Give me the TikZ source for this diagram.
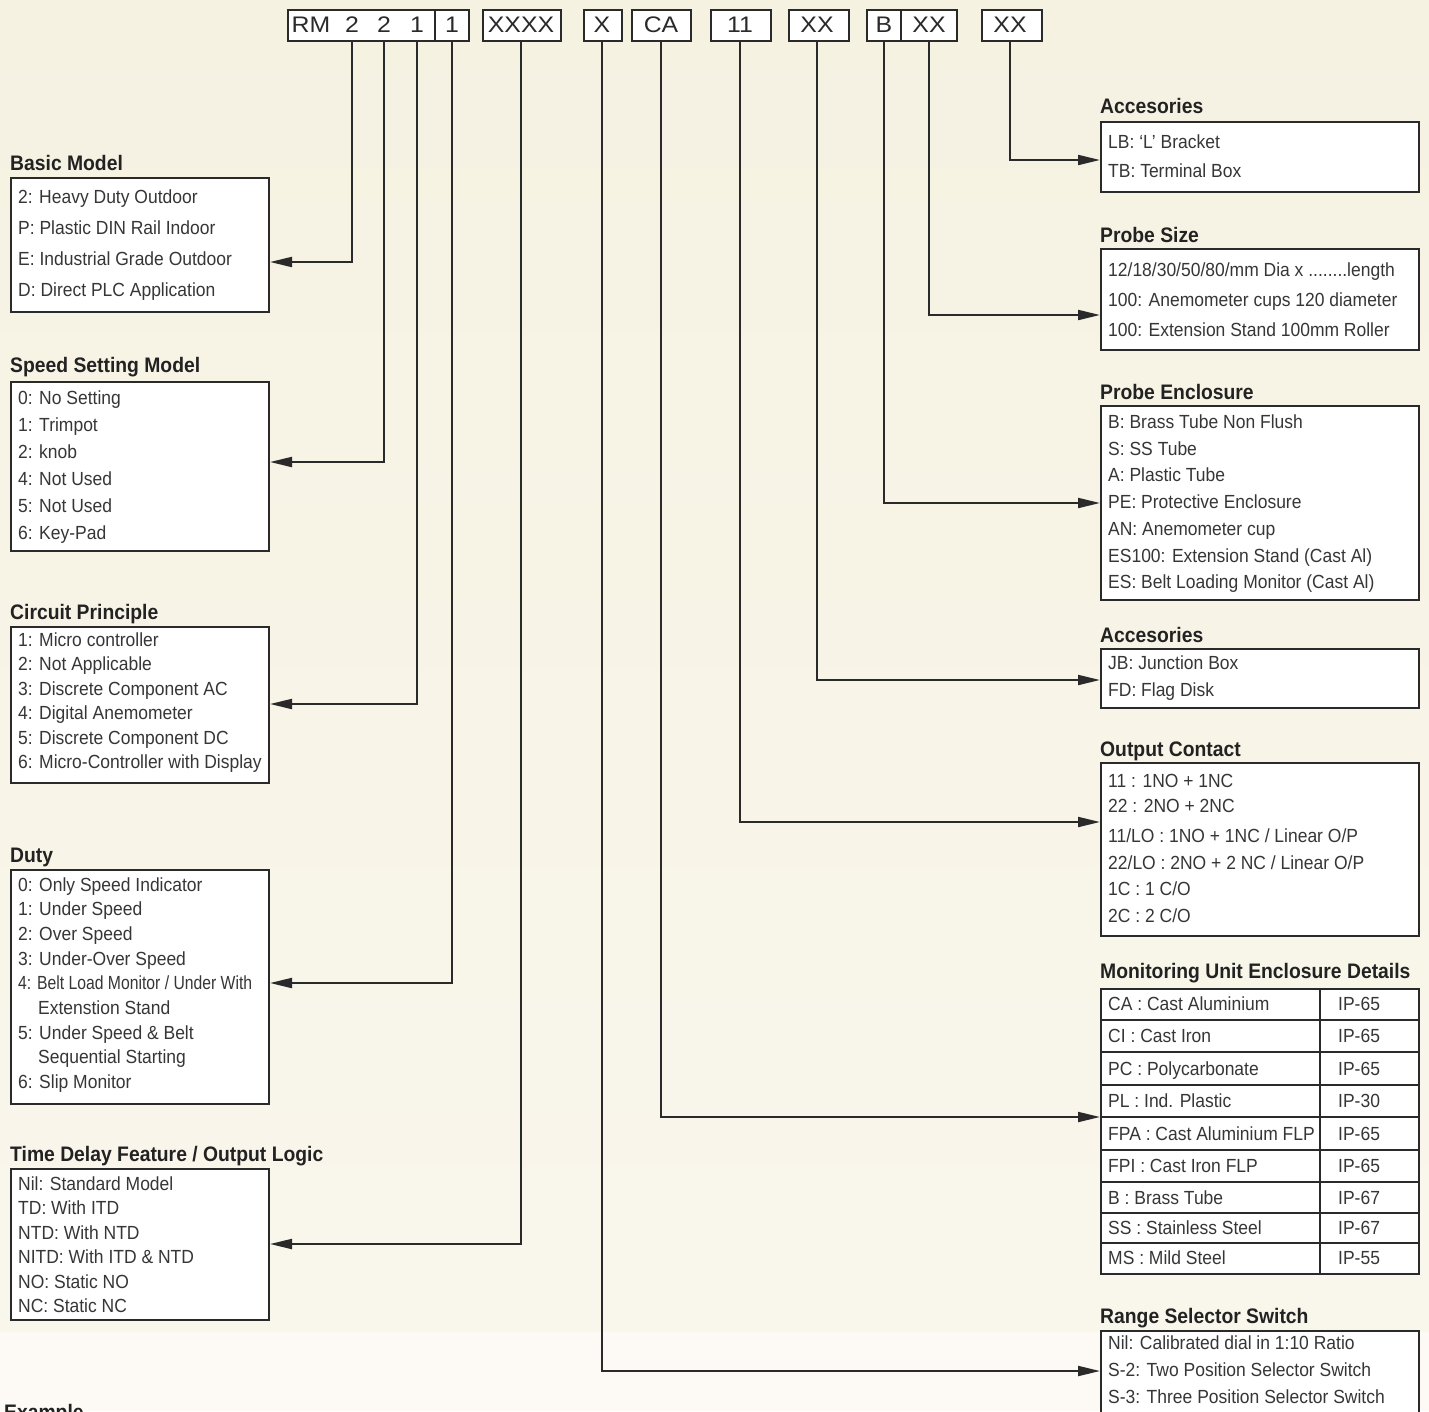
\documentclass[tikz,border=0pt]{standalone}
\usepackage{fontspec}
\usepackage{graphicx}
\setmainfont{Liberation Sans}[FakeStretch=0.92]
\usetikzlibrary{arrows.meta}
\definecolor{bgtop}{HTML}{F6F2E2}
\definecolor{bgmid}{HTML}{F9F6EC}
\definecolor{bgbot}{HTML}{FDFAF5}
\definecolor{ink}{HTML}{2A2A2A}
\definecolor{txt}{HTML}{363636}
\definecolor{hd}{HTML}{222222}
\newcommand{\codetxt}[1]{\scalebox{1.2}[1]{#1}}
\begin{document}
\begin{tikzpicture}[x=1pt,y=-1pt,
  box/.style={draw=ink, line width=2pt, fill=white, inner sep=0pt, anchor=north west},
  item/.style={anchor=base west, inner sep=0pt, text=txt, font=\fontsize{19}{19}\selectfont},
  head/.style={anchor=base west, inner sep=0pt, text=hd, font=\fontsize{21}{21}\selectfont\bfseries},
  code/.style={anchor=base, inner sep=0pt, text=ink, font=\fontsize{22.5}{22.5}\selectfont},
  conn/.style={draw=ink, line width=2pt, -{Triangle[length=22pt,width=10pt]}},
  sep/.style={draw=ink, line width=2pt}]
\useasboundingbox (0,0) rectangle (1429,1411);
\clip (0,0) rectangle (1429,1411);
\shade[top color=bgtop, bottom color=bgmid] (0,0) rectangle (1429,1332);
\fill[bgbot] (0,1332) rectangle (1429,1411);

% ---------- code boxes ----------
\node[box, minimum width=181pt, minimum height=31pt] (cb1) at (287,9) {};
\draw[sep] (435,9) -- (435,40);
\node[box, minimum width=78pt, minimum height=31pt] (cb2) at (482,9) {};
\node[box, minimum width=38pt, minimum height=31pt] (cb3) at (583,9) {};
\node[box, minimum width=59pt, minimum height=31pt] (cb4) at (631,9) {};
\node[box, minimum width=60pt, minimum height=31pt] (cb5) at (710,9) {};
\node[box, minimum width=60pt, minimum height=31pt] (cb6) at (788,9) {};
\node[box, minimum width=90pt, minimum height=31pt] (cb7) at (866,9) {};
\draw[sep] (901,9) -- (901,40);
\node[box, minimum width=60pt, minimum height=31pt] (cb8) at (981,9) {};

\node[code] (rm) at (311,32.5) {\codetxt{RM}};
\node[code] (d1) at (352,32.5) {\codetxt{2}};
\node[code] (d2) at (384,32.5) {\codetxt{2}};
\node[code] (d3) at (417,32.5) {\codetxt{1}};
\node[code] (d4) at (452,32.5) {\codetxt{1}};
\node[code] (d5) at (521,32.5) {\codetxt{XXXX}};
\node[code] (d6) at (602,32.5) {\codetxt{X}};
\node[code] (d7) at (661,32.5) {\codetxt{CA}};
\node[code] (d8) at (740,32.5) {\codetxt{11}};
\node[code] (d9) at (817,32.5) {\codetxt{XX}};
\node[code] (d10) at (884,32.5) {\codetxt{B}};
\node[code] (d11) at (929,32.5) {\codetxt{XX}};
\node[code] (d12) at (1010,32.5) {\codetxt{XX}};

% ---------- left column ----------
\node[head] (hbasic) at (10,170) {Basic Model};
\node[box, minimum width=258pt, minimum height=134pt] (basic) at (10,177) {};
\foreach \t [count=\i from 0] in {2: Heavy Duty Outdoor, P: Plastic DIN Rail Indoor, E: Industrial Grade Outdoor, D: Direct PLC Application}
  \node[item] (basic-\i) at (18,203+31*\i) {\t};

\node[head] (hspeed) at (10,372) {Speed Setting Model};
\node[box, minimum width=258pt, minimum height=169pt] (speed) at (10,381) {};
\foreach \t [count=\i from 0] in {0: No Setting, 1: Trimpot, 2: knob, 4: Not Used, 5: Not Used, 6: Key-Pad}
  \node[item] (speed-\i) at (18,404.5+27*\i) {\t};

\node[head] (hcirc) at (10,619) {Circuit Principle};
\node[box, minimum width=258pt, minimum height=156pt] (circ) at (10,626) {};
\foreach \t [count=\i from 0] in {1: Micro controller, 2: Not Applicable, 3: Discrete Component AC, 4: Digital Anemometer, 5: Discrete Component DC, 6: Micro-Controller with Display}
  \node[item] (circ-\i) at (18,646+24.5*\i) {\t};

\node[head] (hduty) at (10,862) {Duty};
\node[box, minimum width=258pt, minimum height=234pt] (duty) at (10,869) {};
\foreach \t [count=\i from 0] in {0: Only Speed Indicator, 1: Under Speed, 2: Over Speed, 3: Under-Over Speed, \scalebox{0.9}[1]{4: Belt Load Monitor / Under With}, \hspace*{20pt}Extenstion Stand, 5: Under Speed \& Belt, \hspace*{20pt}Sequential Starting, 6: Slip Monitor}
  \node[item] (duty-\i) at (18,891+24.7*\i) {\t};

\node[head] (htime) at (10,1161) {Time Delay Feature / Output Logic};
\node[box, minimum width=258pt, minimum height=151pt] (time) at (10,1168) {};
\foreach \t [count=\i from 0] in {Nil: Standard Model, TD: With ITD, NTD: With NTD, NITD: With ITD \& NTD, NO: Static NO, NC: Static NC}
  \node[item] (time-\i) at (18,1190+24.5*\i) {\t};

\node[head, anchor=north west] (example) at (4,1404) {Example};

% ---------- right column ----------
\node[head] (hacc1) at (1100,113) {Accesories};
\node[box, minimum width=318pt, minimum height=70pt] (acc1) at (1100,121) {};
\node[item] (acc1-0) at (1108,148) {LB: `L' Bracket};
\node[item] (acc1-1) at (1108,177) {TB: Terminal Box};

\node[head] (hsize) at (1100,242) {Probe Size};
\node[box, minimum width=318pt, minimum height=101pt] (size) at (1100,248) {};
\node[item] (size-0) at (1108,276) {12/18/30/50/80/mm Dia x ........length};
\node[item] (size-1) at (1108,306) {100: Anemometer cups 120 diameter};
\node[item] (size-2) at (1108,336) {100: Extension Stand 100mm Roller};

\node[head] (hencl) at (1100,399) {Probe Enclosure};
\node[box, minimum width=318pt, minimum height=194pt] (encl) at (1100,405) {};
\foreach \t [count=\i from 0] in {B: Brass Tube Non Flush, S: SS Tube, A: Plastic Tube, PE: Protective Enclosure, AN: Anemometer cup, ES100: Extension Stand (Cast Al), ES: Belt Loading Monitor (Cast Al)}
  \node[item] (encl-\i) at (1108,428.5+26.7*\i) {\t};

\node[head] (hacc2) at (1100,642) {Accesories};
\node[box, minimum width=318pt, minimum height=59pt] (acc2) at (1100,648) {};
\node[item] (acc2-0) at (1108,669) {JB: Junction Box};
\node[item] (acc2-1) at (1108,696) {FD: Flag Disk};

\node[head] (hout) at (1100,756) {Output Contact};
\node[box, minimum width=318pt, minimum height=173pt] (out) at (1100,762) {};
\node[item] (out-0) at (1108,787) {11 : 1NO + 1NC};
\node[item] (out-1) at (1108,812) {22 : 2NO + 2NC};
\node[item] (out-2) at (1108,842) {11/LO : 1NO + 1NC / Linear O/P};
\node[item] (out-3) at (1108,869) {22/LO : 2NO + 2 NC / Linear O/P};
\node[item] (out-4) at (1108,895) {1C : 1 C/O};
\node[item] (out-5) at (1108,922) {2C : 2 C/O};

\node[head] (hmon) at (1100,978) {Monitoring Unit Enclosure Details};
\node[box, minimum width=318pt, minimum height=285pt] (mon) at (1100,988) {};
\foreach \yy in {1019.5,1052,1084.5,1117,1149.5,1182,1213,1242.5}
  \draw[sep] (1100,\yy) -- (1418,\yy);
\draw[sep] (1320,988) -- (1320,1273);
\foreach \a/\b/\yy [count=\i from 0] in {CA : Cast Aluminium/IP-65/1003.75, CI : Cast Iron/IP-65/1035.75, PC : Polycarbonate/IP-65/1068.25, PL : Ind. Plastic/IP-30/1100.75, FPA : Cast Aluminium FLP/IP-65/1133.25, FPI : Cast Iron FLP/IP-65/1165.75, B : Brass Tube/IP-67/1197.5, SS : Stainless Steel/IP-67/1227.75, MS : Mild Steel/IP-55/1257.75}
{
  \node[item] (mon-a\i) at (1108,\yy+7) {\a};
  \node[item] (mon-b\i) at (1338,\yy+7) {\b};
}

\node[head] (hrange) at (1100,1323) {Range Selector Switch};
\node[box, minimum width=318pt, minimum height=100pt] (range) at (1100,1330) {};
\node[item] (range-0) at (1108,1349) {Nil: Calibrated dial in 1:10 Ratio};
\node[item] (range-1) at (1108,1376) {S-2: Two Position Selector Switch};
\node[item] (range-2) at (1108,1403) {S-3: Three Position Selector Switch};

% ---------- connectors ----------
\coordinate (yb) at (0,262);
\coordinate (ys) at (0,462);
\coordinate (yc) at (0,704);
\coordinate (yd) at (0,983);
\coordinate (yt) at (0,1244);
\coordinate (ya1) at (0,160);
\coordinate (yz) at (0,315);
\coordinate (ye) at (0,503);
\coordinate (ya2) at (0,680);
\coordinate (yo) at (0,822);
\coordinate (ym) at (0,1117);
\coordinate (yr) at (0,1371);

\draw[conn] (d1 |- cb1.south) |- (basic.east |- yb);
\draw[conn] (d2 |- cb1.south) |- (speed.east |- ys);
\draw[conn] (d3 |- cb1.south) |- (circ.east |- yc);
\draw[conn] (d4 |- cb1.south) |- (duty.east |- yd);
\draw[conn] (d5 |- cb2.south) |- (time.east |- yt);
\draw[conn] (d6 |- cb3.south) |- (range.west |- yr);
\draw[conn] (d7 |- cb4.south) |- (mon.west |- ym);
\draw[conn] (d8 |- cb5.south) |- (out.west |- yo);
\draw[conn] (d9 |- cb6.south) |- (acc2.west |- ya2);
\draw[conn] (d10 |- cb7.south) |- (encl.west |- ye);
\draw[conn] (d11 |- cb7.south) |- (size.west |- yz);
\draw[conn] (d12 |- cb8.south) |- (acc1.west |- ya1);
\end{tikzpicture}
\end{document}
